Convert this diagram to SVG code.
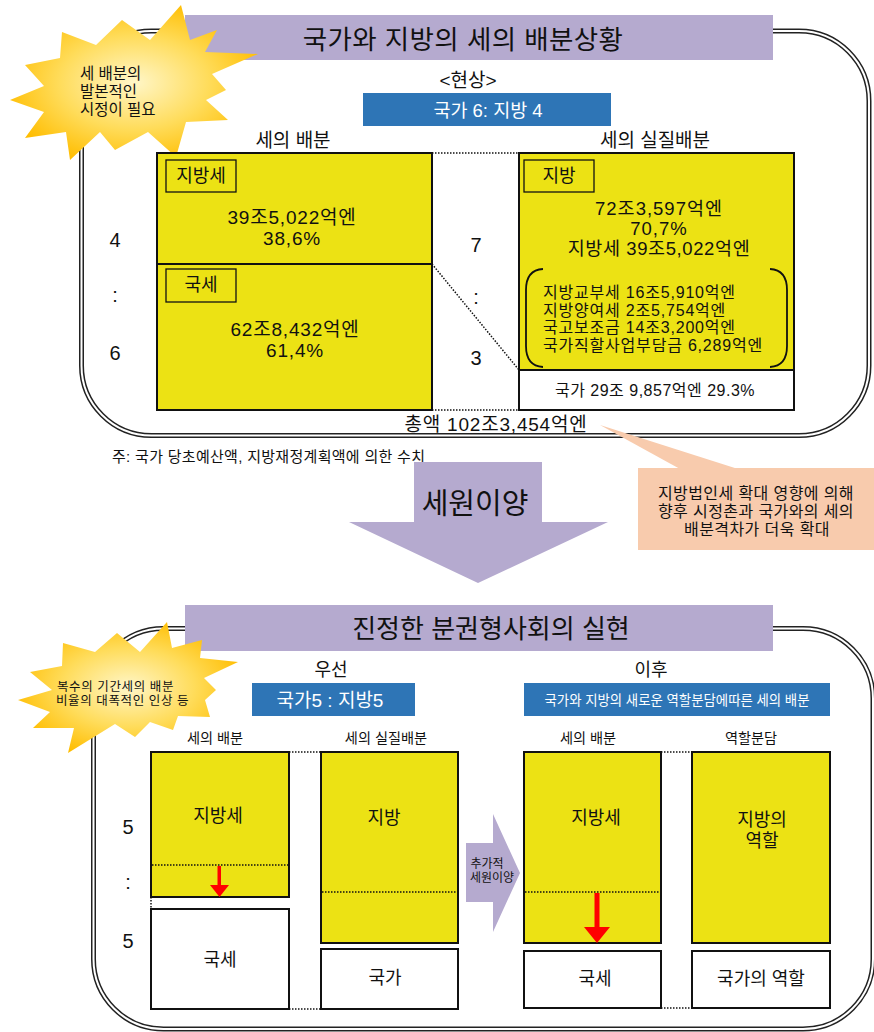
<svg xmlns="http://www.w3.org/2000/svg" width="874" height="1032" viewBox="0 0 874 1032">
<defs>
<radialGradient id="burst" cx="50%" cy="50%" r="55%">
<stop offset="0" stop-color="#fff6c8"/>
<stop offset="0.55" stop-color="#ffdc5a"/>
<stop offset="1" stop-color="#ffbd00"/>
</radialGradient>
<style>
.t{font-family:"Liberation Sans","Noto Sans CJK KR",sans-serif;fill:#111;text-anchor:middle;dominant-baseline:central}
.l{text-anchor:start}
.w{fill:#fff}
.fo{fill:none;stroke:#222;stroke-width:5}
.fi{fill:none;stroke:#fff;stroke-width:2}
.bar{fill:#b5aacf}
.blue{fill:#2e75b6}
.y{fill:#ece214;stroke:#111;stroke-width:2}
.wb{fill:#fff;stroke:#111;stroke-width:2}
.lb{fill:none;stroke:#111;stroke-width:1.3}
.dot{stroke:#111;stroke-width:1.5;stroke-dasharray:1.5 1.5;fill:none}
.red{fill:#ff0000}
</style>
</defs>

<g id="frame-top">
<rect class="fo" x="81.5" y="31" width="787.5" height="404.5" rx="70"/>
<rect class="fi" x="81.5" y="31" width="787.5" height="404.5" rx="70"/>
</g>
<g id="frame-bottom">
<rect class="fo" x="93.5" y="628.5" width="779.5" height="400.5" rx="70"/>
<rect class="fi" x="93.5" y="628.5" width="779.5" height="400.5" rx="70"/>
</g>

<g id="title-top">
<rect class="bar" x="185" y="15" width="588" height="45"/>
<text class="t" x="463" y="40" font-size="26.5" letter-spacing="0.4">국가와 지방의 세의 배분상황</text>
</g>

<g id="burst-top">
<polygon fill="url(#burst)" points="181,5 190,40 217,30 205,52 258,54 212,74 226,90 206,100 228,120 186,122 176,157 148,132 115,150 100,132 70,160 66,132 25,138 44,112 10,100 44,86 25,65 60,58 62,32 96,45 122,20 150,40"/>
<text class="t l" font-size="15.5"><tspan x="80" y="73">세 배분의</tspan><tspan x="80" y="91">발본적인</tspan><tspan x="80" y="109">시정이 필요</tspan></text>
</g>

<g id="current">
<text class="t" x="468" y="80" font-size="19">&lt;현상&gt;</text>
<rect class="blue" x="363" y="93" width="248" height="33"/>
<text class="t w" x="488" y="110" font-size="18.5">국가 6: 지방 4</text>
<text class="t" x="293" y="140" font-size="19">세의 배분</text>
<text class="t" x="655" y="140" font-size="19">세의 실질배분</text>
</g>

<g id="ratio-left">
<text class="t" x="115" y="240" font-size="20">4</text>
<text class="t" x="115" y="295" font-size="20">:</text>
<text class="t" x="115" y="353" font-size="20">6</text>
</g>
<g id="ratio-mid">
<text class="t" x="476" y="245" font-size="20">7</text>
<text class="t" x="476" y="297" font-size="20">:</text>
<text class="t" x="476" y="358" font-size="20">3</text>
</g>

<g id="box-tax-distribution">
<rect class="y" x="157" y="153" width="275" height="257"/>
<line x1="157" y1="264" x2="432" y2="264" stroke="#111" stroke-width="2"/>
<rect class="lb" x="166" y="160" width="70" height="32"/>
<text class="t" x="201" y="176" font-size="18">지방세</text>
<text class="t" font-size="19" letter-spacing="0.8"><tspan x="292" y="217">39조5,022억엔</tspan><tspan x="292" y="238">38,6%</tspan></text>
<rect class="lb" x="166" y="269" width="70" height="33"/>
<text class="t" x="201" y="285" font-size="18">국세</text>
<text class="t" font-size="19" letter-spacing="0.8"><tspan x="295" y="329">62조8,432억엔</tspan><tspan x="295" y="350">61,4%</tspan></text>
</g>

<g id="box-real-distribution">
<rect class="y" x="519" y="153" width="275" height="217"/>
<rect class="wb" x="519" y="370" width="275" height="40"/>
<rect class="lb" x="524" y="160" width="70" height="32"/>
<text class="t" x="559" y="176" font-size="18">지방</text>
<text class="t" font-size="18.5" letter-spacing="1"><tspan x="659" y="208">72조3,597억엔</tspan><tspan x="659" y="228">70,7%</tspan><tspan x="659" y="248" letter-spacing="0.6">지방세 39조5,022억엔</tspan></text>
<path d="M543,269 Q526,270 526,290 L526,346 Q526,366 543,367" fill="none" stroke="#111" stroke-width="1.8"/>
<path d="M770,269 Q787,270 787,290 L787,346 Q787,366 770,367" fill="none" stroke="#111" stroke-width="1.8"/>
<text class="t l" font-size="16" letter-spacing="0.8"><tspan x="543" y="292">지방교부세 16조5,910억엔</tspan><tspan x="543" y="309.5">지방양여세 2조5,754억엔</tspan><tspan x="543" y="327">국고보조금 14조3,200억엔</tspan><tspan x="543" y="345">국가직할사업부담금 6,289억엔</tspan></text>
<text class="t" x="655" y="390" font-size="16" letter-spacing="0.5">국가 29조 9,857억엔 29.3%</text>
</g>

<g id="total">
<text class="t" x="496" y="424" font-size="19" letter-spacing="0.8">총액 102조3,454억엔</text>
<text class="t l" x="112" y="456" font-size="15" letter-spacing="0.3">주: 국가 당초예산액, 지방재정계획액에 의한 수치</text>
</g>

<g id="callout">
<polygon fill="#f8cbad" points="600,425 680,469 738,469"/>
<rect x="638" y="468" width="236" height="82" fill="#f8cbad"/>
<text class="t" font-size="16" letter-spacing="0.4"><tspan x="756" y="493">지방법인세 확대 영향에 의해</tspan><tspan x="756" y="511">향후 시정촌과 국가와의 세의</tspan><tspan x="757" y="529">배분격차가 더욱 확대</tspan></text>
</g>

<g id="arrow-transfer">
<polygon class="bar" points="414,462 542,462 542,522 608,522 478,583 349,522 414,522"/>
<text class="t" x="475" y="504" font-size="29">세원이양</text>
</g>

<g id="title-bottom">
<rect class="bar" x="185" y="605" width="588" height="46"/>
<text class="t" x="491" y="629" font-size="26">진정한 분권형사회의 실현</text>
</g>

<g id="burst-bottom">
<polygon fill="url(#burst)" points="167,622 172,648 202,640 200,658 238,662 204,678 216,690 205,700 210,717 178,716 173,730 150,722 135,737 115,724 68,753 74,728 33,728 50,712 18,700 52,690 30,672 62,666 63,643 95,652 117,633 140,652"/>
<text class="t l" font-size="12.5" letter-spacing="0.6"><tspan x="57" y="687">복수의 기간세의 배분</tspan><tspan x="56" y="701">비율의 대폭적인 인상 등</tspan></text>
</g>

<g id="first">
<text class="t" x="331" y="670" font-size="18">우선</text>
<rect class="blue" x="252" y="683" width="163" height="33"/>
<text class="t w" x="330" y="700" font-size="19">국가5 : 지방5</text>
<text class="t" x="215" y="738" font-size="14.2">세의 배분</text>
<text class="t" x="386" y="738" font-size="14.2">세의 실질배분</text>
</g>

<g id="after">
<text class="t" x="651" y="670" font-size="18">이후</text>
<rect class="blue" x="524" y="683" width="306" height="33"/>
<text class="t w" x="677" y="700" font-size="13.4">국가와 지방의 새로운 역할분담에따른 세의 배분</text>
<text class="t" x="588" y="738" font-size="14.2">세의 배분</text>
<text class="t" x="751" y="738" font-size="14.2">역할분담</text>
</g>

<g id="ratio-bottom">
<text class="t" x="128" y="827" font-size="20">5</text>
<text class="t" x="128" y="882" font-size="20">:</text>
<text class="t" x="128" y="941" font-size="20">5</text>
</g>

<g id="box-a">
<rect class="y" x="151" y="752" width="138" height="145"/>
<line class="dot" x1="152" y1="865" x2="288" y2="865"/>
<rect class="wb" x="151" y="909" width="138" height="100"/>
<text class="t" x="218" y="816" font-size="18">지방세</text>
<text class="t" x="220" y="960" font-size="18">국세</text>
<rect class="red" x="217.5" y="866" width="3.5" height="20"/>
<polygon class="red" points="210,885 229,885 219.5,897"/>
</g>

<g id="box-b">
<rect class="y" x="321" y="752" width="137" height="191"/>
<line class="dot" x1="322" y1="892" x2="457" y2="892"/>
<rect class="wb" x="321" y="949" width="137" height="60"/>
<text class="t" x="384" y="818" font-size="18">지방</text>
<text class="t" x="385" y="978" font-size="18">국가</text>
</g>

<g id="arrow-additional">
<polygon class="bar" points="466,843 493,843 493,814 520,873 493,932 493,902 466,902"/>
<text class="t" font-size="12"><tspan x="487" y="864">추가적</tspan><tspan x="492" y="878">세원이양</tspan></text>
</g>

<g id="box-c">
<rect class="y" x="524" y="752" width="137" height="191"/>
<line class="dot" x1="525" y1="892" x2="660" y2="892"/>
<rect class="wb" x="524" y="951" width="137" height="57"/>
<text class="t" x="596" y="818" font-size="18">지방세</text>
<text class="t" x="595" y="979" font-size="18">국세</text>
<rect class="red" x="594.5" y="893" width="5" height="35"/>
<polygon class="red" points="584,927 610,927 597,943"/>
</g>

<g id="box-d">
<rect class="y" x="692" y="752" width="138" height="191"/>
<rect class="wb" x="692" y="951" width="138" height="57"/>
<text class="t" font-size="18"><tspan x="762" y="820">지방의</tspan><tspan x="762" y="841">역할</tspan></text>
<text class="t" x="761" y="979" font-size="18">국가의 역할</text>
</g>

<g id="connectors">
<line class="dot" x1="432" y1="153" x2="519" y2="153"/>
<line class="dot" x1="432" y1="264" x2="519" y2="370"/>
<line class="dot" x1="432" y1="410" x2="519" y2="410"/>
<line class="dot" x1="289" y1="752" x2="321" y2="752"/>
<line class="dot" x1="289" y1="1009" x2="321" y2="1009"/>
<line class="dot" x1="151" y1="897" x2="151" y2="909"/>
<line class="dot" x1="661" y1="752" x2="692" y2="752"/>
<line class="dot" x1="661" y1="1008" x2="692" y2="1008"/>
</g>
</svg>
